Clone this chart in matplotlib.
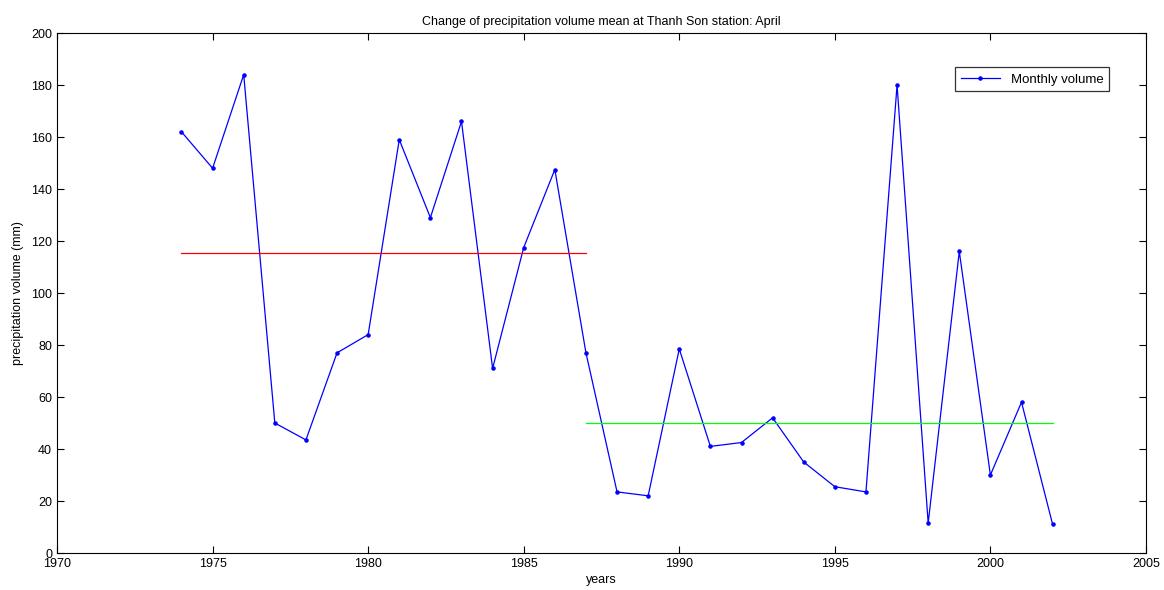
import matplotlib.pyplot as plt
import numpy as np

plt.rcParams['font.family'] = ['Liberation Sans', 'DejaVu Sans']

# data
years = list(range(1974, 2003))
volume = [162, 148, 184, 50, 43.5, 77, 84, 159, 129, 166, 71, 117.5, 147.5, 77,
          23.5, 22, 78.5, 41, 42.5, 52, 35, 25.5, 23.5, 180, 11.5, 116, 30, 58, 11]
split_year = 1987

yrs = np.array(years)
vol = np.array(volume)
mean1 = vol[yrs <= split_year].mean()
mean2 = vol[yrs > split_year].mean()

fig = plt.figure(figsize=(11.64, 5.9), dpi=100)
ax = fig.add_axes([0.049, 0.0627, 0.9355, 0.8813])

ax.plot(years, volume, color='blue', marker='.', markersize=4.5, linewidth=0.9,
        label='Monthly volume')
ax.plot([years[0], split_year], [mean1, mean1], color='red', linewidth=0.9)
ax.plot([split_year, years[-1]], [mean2, mean2], color='#00ff00', linewidth=0.9)

ax.set_xlim(1970, 2005)
ax.set_ylim(0, 200)
ax.set_xticks(range(1970, 2006, 5))
ax.set_yticks(range(0, 201, 20))
ax.tick_params(direction='in', top=True, right=True, labelsize=9, length=5, width=0.8)
for s in ax.spines.values():
    s.set_linewidth(0.8)

ax.set_xlabel('years', fontsize=9, labelpad=3)
ax.set_ylabel('precipitation volume (mm)', fontsize=9, labelpad=5)
ax.set_title('Change of precipitation volume mean at Thanh Son station: April', fontsize=9, pad=6)

leg = ax.legend(loc='upper right', bbox_to_anchor=(0.9665, 0.934), fontsize=9.5,
                fancybox=False, framealpha=1, edgecolor='#333333', borderpad=0.45,
                handlelength=3.0, borderaxespad=0)
leg.get_frame().set_linewidth(0.9)

fig.savefig('out.png', dpi=100)
